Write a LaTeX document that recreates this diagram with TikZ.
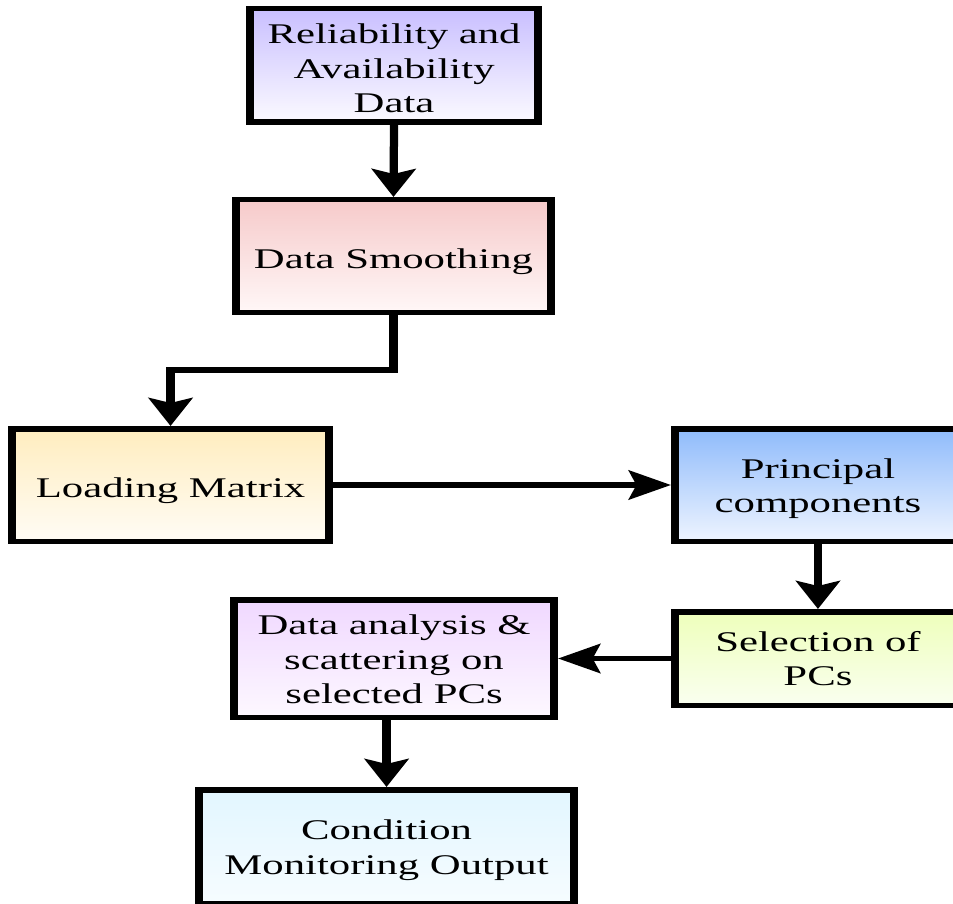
\documentclass[tikz,border=0pt]{standalone}
\usepackage{fontspec}
\setmainfont{Liberation Serif}
\usetikzlibrary{arrows.meta}
\definecolor{relT}{HTML}{C9BFFF}
\definecolor{relB}{HTML}{FBFAFF}
\definecolor{dsT}{HTML}{F6CACA}
\definecolor{dsB}{HTML}{FFF7F7}
\definecolor{lmT}{HTML}{FFEDBF}
\definecolor{lmB}{HTML}{FFFCF5}
\definecolor{pcT}{HTML}{8FBBFB}
\definecolor{pcB}{HTML}{EEF4FF}
\definecolor{selT}{HTML}{EEFFBB}
\definecolor{selB}{HTML}{FAFFF0}
\definecolor{daT}{HTML}{F0D8FF}
\definecolor{daB}{HTML}{FDF8FF}
\definecolor{cmT}{HTML}{E2F6FF}
\definecolor{cmB}{HTML}{F6FCFF}
\begin{document}
\begin{tikzpicture}[x=1pt,y=-1pt,
  box/.style={draw=black, line width=5.5pt, inner sep=0pt},
  txt/.style={inner sep=0pt, align=center, font=\fontsize{28.5}{34.5}\selectfont},
  arr/.style={line width=5.5pt, -{Stealth[length=28pt,width=29pt,inset=5pt]}}]
\useasboundingbox (0,0) rectangle (953,904);
\clip (0,0) rectangle (953,904);
\begin{scope}[transform canvas={xscale=1.5}]
\node[box, minimum width=191.8pt, minimum height=113.5pt, top color=relT, bottom color=relB]
  (rel) at (262.7,65.5) {};
\node[box, minimum width=209.8pt, minimum height=112.5pt, top color=dsT, bottom color=dsB]
  (ds) at (262.3,256) {};
\node[box, minimum width=211.2pt, minimum height=112.5pt, top color=lmT, bottom color=lmB]
  (lm) at (113.7,485) {};
\node[box, minimum width=190.5pt, minimum height=112.5pt, top color=pcT, bottom color=pcB]
  (pc) at (545.3,485) {};
\node[box, minimum width=190.5pt, minimum height=93.5pt, top color=selT, bottom color=selB]
  (sel) at (545.3,658.5) {};
\node[box, minimum width=213.2pt, minimum height=117.5pt, top color=daT, bottom color=daB]
  (da) at (262.7,658.5) {};
\node[box, minimum width=249.8pt, minimum height=113.5pt, top color=cmT, bottom color=cmB]
  (cm) at (257.7,846.5) {};
\node[txt] (relt) at ([yshift=-3pt]rel.center) {Reliability and\\Availability\\Data};
\node[txt] (dst) at ([yshift=-6pt]ds.center) {Data Smoothing};
\node[txt] (lmt) at ([yshift=-6pt]lm.center) {Loading Matrix};
\node[txt] (pct) at ([yshift=-3.5pt]pc.center) {Principal\\components};
\node[txt] (selt) at (sel.center) {Selection of\\PCs};
\node[txt] (dat) at ([yshift=-1pt]da.center) {Data analysis \&\\scattering on\\selected PCs};
\node[txt] (cmt) at ([yshift=-3.5pt]cm.center) {Condition\\Monitoring Output};
\coordinate (bend) at (0,370);
\draw[arr] (rel.south) -- (ds.north);
\draw[arr] (ds.south) -- (ds.south |- bend) -| (lm.north);
\draw[arr] (lm.east) -- (pc.west);
\draw[arr] (pc.south) -- (sel.north);
\draw[arr] (sel.west) -- (da.east);
\draw[arr] (da.south -| cm.north) -- (cm.north);
\end{scope}
\end{tikzpicture}
\end{document}
